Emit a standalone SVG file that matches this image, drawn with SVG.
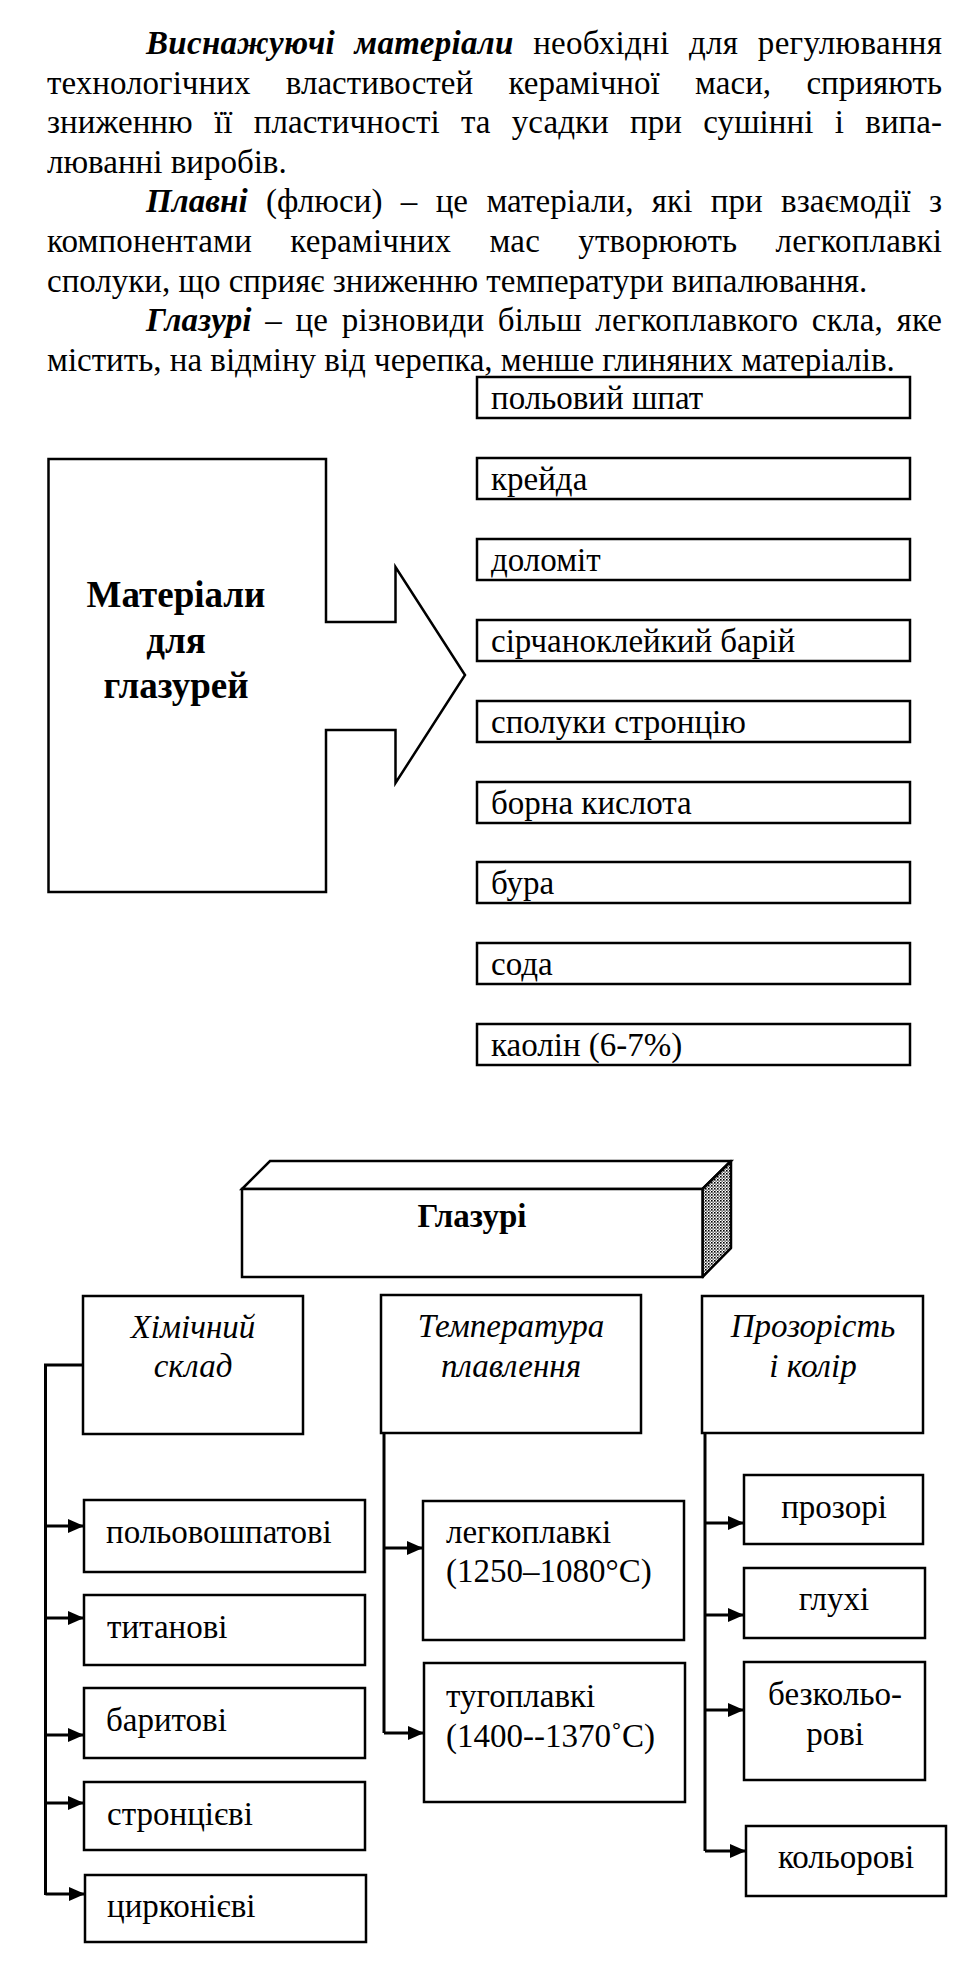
<svg xmlns="http://www.w3.org/2000/svg" width="970" height="1978" viewBox="0 0 970 1978" font-family="Liberation Serif" font-size="33">
<style>
  .bi { font-weight: bold; font-style: italic; }
  .it { font-style: italic; }
  .b { font-weight: bold; }
  .big { font-weight: bold; font-size: 37px; }
  .box { fill: #fff; stroke: #000; stroke-width: 2.5; }
  .ln { fill: none; stroke: #000; stroke-width: 3; }
  .ar { fill: none; stroke: #000; stroke-width: 3; marker-end: url(#ah); }
  .c { text-anchor: middle; }
</style>
<defs>
  <marker id="ah" viewBox="0 0 16 14" refX="16" refY="7" markerWidth="16" markerHeight="14" markerUnits="userSpaceOnUse" orient="auto">
    <path d="M0,0 L16,7 L0,14 Z" fill="#000"/>
  </marker>
  <pattern id="dots" width="3" height="3" patternUnits="userSpaceOnUse">
    <rect width="3" height="3" fill="#fff"/>
    <rect width="1.6" height="1.6" fill="#000"/>
    <rect x="1.5" y="1.5" width="1.3" height="1.3" fill="#333"/>
  </pattern>
</defs>

<rect width="970" height="1978" fill="#fff"/>

<g id="paragraphs">
  <text x="146" y="54" textLength="796" lengthAdjust="spacing" word-spacing="11"><tspan class="bi">Виснажуючі матеріали</tspan> необхідні для регулювання</text>
  <text x="47" y="94" textLength="895" lengthAdjust="spacing" word-spacing="27">технологічних властивостей керамічної маси, сприяють</text>
  <text x="47" y="133" textLength="895" lengthAdjust="spacing" word-spacing="13">зниженню її пластичності та усадки при сушінні і випа-</text>
  <text x="47" y="173">люванні виробів.</text>
  <text x="146" y="212" textLength="796" lengthAdjust="spacing" word-spacing="10"><tspan class="bi">Плавні</tspan> (флюси) – це матеріали, які при взаємодії з</text>
  <text x="47" y="252" textLength="895" lengthAdjust="spacing" word-spacing="30">компонентами керамічних мас утворюють легкоплавкі</text>
  <text x="47" y="292">сполуки, що сприяє зниженню температури випалювання.</text>
  <text x="146" y="331" textLength="796" lengthAdjust="spacing" word-spacing="5"><tspan class="bi">Глазурі</tspan> – це різновиди більш легкоплавкого скла, яке</text>
  <text x="47" y="371">містить, на відміну від черепка, менше глиняних матеріалів.</text>
</g>

<g id="materials-arrow">
  <polygon class="box" points="48.5,459 326,459 326,622 395.5,622 395.5,567 465,675 395.5,783 395.5,730 326,730 326,892 48.5,892"/>
  <text class="big c" x="176" y="607">Матеріали</text>
  <text class="big c" x="176" y="653">для</text>
  <text class="big c" x="176" y="698">глазурей</text>
</g>

<g id="m1"><rect class="box" x="477" y="377" width="433" height="41"/><text x="491" y="409">польовий шпат</text></g>
<g id="m2"><rect class="box" x="477" y="458" width="433" height="41"/><text x="491" y="490">крейда</text></g>
<g id="m3"><rect class="box" x="477" y="539" width="433" height="41"/><text x="491" y="571">доломіт</text></g>
<g id="m4"><rect class="box" x="477" y="620" width="433" height="41"/><text x="491" y="652">сірчаноклейкий барій</text></g>
<g id="m5"><rect class="box" x="477" y="701" width="433" height="41"/><text x="491" y="733">сполуки стронцію</text></g>
<g id="m6"><rect class="box" x="477" y="782" width="433" height="41"/><text x="491" y="814">борна кислота</text></g>
<g id="m7"><rect class="box" x="477" y="862" width="433" height="41"/><text x="491" y="894">бура</text></g>
<g id="m8"><rect class="box" x="477" y="943" width="433" height="41"/><text x="491" y="975">сода</text></g>
<g id="m9"><rect class="box" x="477" y="1024" width="433" height="41"/><text x="491" y="1056">каолін (6-7%)</text></g>

<g id="glazuri">
  <polygon class="box" points="242,1189 270,1161 731,1161 702.5,1189"/>
  <polygon points="702.5,1189 731,1161 731,1248 702.5,1277" fill="url(#dots)" stroke="#000" stroke-width="2.5" stroke-linejoin="round"/>
  <rect class="box" x="242" y="1189" width="460.5" height="88"/>
  <text class="b c" x="472" y="1227">Глазурі</text>
</g>

<g id="h-chem"><rect class="box" x="83" y="1296" width="220" height="138"/>
  <text class="it c" x="193" y="1338">Хімічний</text><text class="it c" x="193" y="1377">склад</text></g>
<g id="h-temp"><rect class="box" x="381" y="1295" width="260" height="138"/>
  <text class="it c" x="511" y="1337">Температура</text><text class="it c" x="511" y="1377">плавлення</text></g>
<g id="h-prozor"><rect class="box" x="702" y="1296" width="221" height="137"/>
  <text class="it c" x="813" y="1337">Прозорість</text><text class="it c" x="813" y="1377">і колір</text></g>

<g id="c1"><rect class="box" x="84" y="1500" width="281" height="72"/><text x="106" y="1543">польовошпатові</text></g>
<g id="c2"><rect class="box" x="84" y="1595" width="281" height="70"/><text x="107" y="1638">титанові</text></g>
<g id="c3"><rect class="box" x="84" y="1688" width="281" height="70"/><text x="106" y="1731">баритові</text></g>
<g id="c4"><rect class="box" x="84" y="1782" width="281" height="68"/><text x="107" y="1825">стронцієві</text></g>
<g id="c5"><rect class="box" x="85" y="1875" width="281" height="67"/><text x="107" y="1917">цирконієві</text></g>

<g id="t1"><rect class="box" x="423" y="1501" width="261" height="139"/>
  <text x="446" y="1543">легкоплавкі</text><text x="446" y="1582">(1250–1080°C)</text></g>
<g id="t2"><rect class="box" x="424" y="1663" width="261" height="139"/>
  <text x="446" y="1707">тугоплавкі</text><text x="446" y="1747">(1400--1370˚C)</text></g>

<g id="p1"><rect class="box" x="744" y="1475" width="179" height="69"/><text class="c" x="834" y="1518">прозорі</text></g>
<g id="p2"><rect class="box" x="744" y="1568" width="181" height="70"/><text class="c" x="834" y="1610">глухі</text></g>
<g id="p3"><rect class="box" x="744" y="1662" width="181" height="118"/><text class="c" x="835" y="1705">безкольо-</text><text class="c" x="835" y="1745">рові</text></g>
<g id="p4"><rect class="box" x="746" y="1826" width="200" height="70"/><text class="c" x="846" y="1868">кольорові</text></g>

<g id="connectors">
  <path class="ln" d="M83,1365 H45.5 V1895"/>
  <line class="ar" x1="45.5" y1="1526" x2="84" y2="1526"/>
  <line class="ar" x1="45.5" y1="1618" x2="84" y2="1618"/>
  <line class="ar" x1="45.5" y1="1735" x2="84" y2="1735"/>
  <line class="ar" x1="45.5" y1="1803" x2="84" y2="1803"/>
  <path class="ar" d="M45.5,1894 H85"/>
  <path class="ln" d="M384,1433 V1733"/>
  <line class="ar" x1="384" y1="1548" x2="423" y2="1548"/>
  <path class="ar" d="M384,1733 H424"/>
  <path class="ln" d="M705,1433 V1851"/>
  <line class="ar" x1="705" y1="1523" x2="744" y2="1523"/>
  <line class="ar" x1="705" y1="1615" x2="744" y2="1615"/>
  <line class="ar" x1="705" y1="1710" x2="744" y2="1710"/>
  <path class="ar" d="M705,1851 H746"/>
</g>
</svg>
